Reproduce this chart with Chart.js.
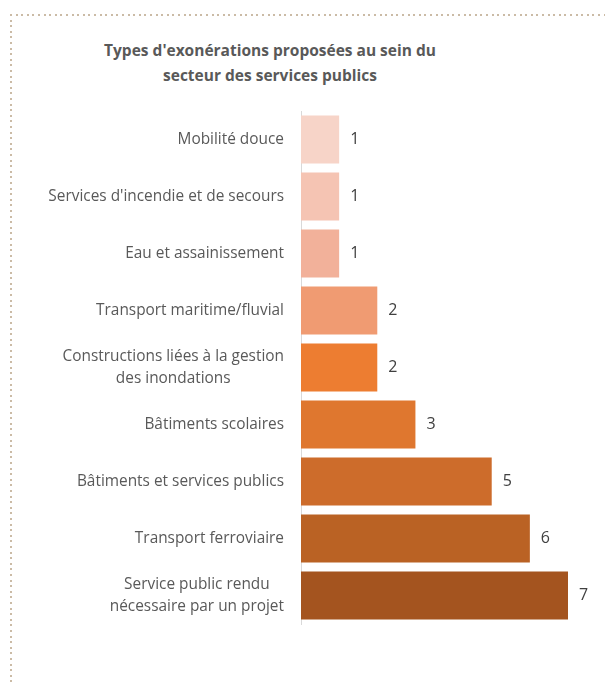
<!DOCTYPE html>
<html lang="fr">
<head>
<meta charset="utf-8">
<title>Types d'exonérations – services publics</title>
<script src="https://cdn.jsdelivr.net/npm/chart.js@4/dist/chart.umd.min.js"></script>
<style>
  html, body { margin: 0; padding: 0; background: #fff; }
  body { width: 605px; height: 686px; position: relative; overflow: hidden; font-family: "Open Sans", sans-serif; }
  /* dotted frame: top and left edges only, the rest runs off the page */
  .frame-top { position: absolute; left: 10px; top: 14px; width: 600px; height: 2px;
    background: repeating-linear-gradient(to right, #cbbba6 0 2px, transparent 2px 5.6px); }
  .frame-left { position: absolute; left: 10px; top: 14px; width: 2px; height: 680px;
    background: repeating-linear-gradient(to bottom, #cbbba6 0 2px, transparent 2px 5.6px); }
  #title { position: absolute; left: 0; width: 540px; top: 38px; text-align: center;
    font-weight: bold; font-size: 15.5px; line-height: 25px; color: #595959; }
  #chart { position: absolute; left: 0; top: 0; }
</style>
</head>
<body>
<div class="frame-top"></div>
<div class="frame-left"></div>
<div id="title">Types d'exonérations proposées au sein du<br>secteur des services publics</div>
<canvas id="chart" width="605" height="686"></canvas>
<script>
const categories = [
  'Mobilité douce',
  "Services d'incendie et de secours",
  'Eau et assainissement',
  'Transport maritime/fluvial',
  ['Constructions liées à la gestion', 'des inondations'],
  'Bâtiments scolaires',
  'Bâtiments et services publics',
  'Transport ferroviaire',
  ['Service public rendu', 'nécessaire par un projet']
];
const counts = [1, 1, 1, 2, 2, 3, 5, 6, 7];
const barColors = [
  '#f7d4c8', '#f5c4b3', '#f2b19a', '#f09b72', '#ed7d31',
  '#df772f', '#cd6c2b', '#ba6224', '#a4541f'
];

const labelFont = '15.4px "Open Sans", sans-serif';

// category names: block right-aligned against the axis, lines centred inside the block
const categoryLabels = {
  id: 'categoryLabels',
  afterDraw(chart) {
    const ctx = chart.ctx;
    const yScale = chart.scales.y;
    const right = chart.chartArea.left - 17;
    const lineHeight = 22;
    ctx.save();
    ctx.font = labelFont;
    ctx.fillStyle = '#595959';
    ctx.textAlign = 'center';
    ctx.textBaseline = 'middle';
    categories.forEach((cat, i) => {
      const lines = Array.isArray(cat) ? cat : [cat];
      const w = Math.max(...lines.map(l => ctx.measureText(l).width));
      const cx = right - w / 2;
      const cy = yScale.getPixelForValue(i);
      lines.forEach((line, j) => {
        ctx.fillText(line, cx, cy + (j - (lines.length - 1) / 2) * lineHeight);
      });
    });
    ctx.restore();
  }
};

// value printed just past the end of each bar
const valueLabels = {
  id: 'valueLabels',
  afterDatasetsDraw(chart) {
    const ctx = chart.ctx;
    const meta = chart.getDatasetMeta(0);
    ctx.save();
    ctx.font = '16px "Open Sans", sans-serif';
    ctx.fillStyle = '#404040';
    ctx.textAlign = 'left';
    ctx.textBaseline = 'middle';
    meta.data.forEach((bar, i) => {
      ctx.fillText(String(counts[i]), bar.x + 11, bar.y);
    });
    ctx.restore();
  }
};

new Chart(document.getElementById('chart'), {
  type: 'bar',
  data: {
    labels: categories,
    datasets: [{
      data: counts,
      backgroundColor: barColors,
      borderWidth: 0,
      categoryPercentage: 1,
      barPercentage: 0.84
    }]
  },
  options: {
    indexAxis: 'y',
    responsive: false,
    animation: false,
    layout: { padding: { left: 0, right: 37, top: 111, bottom: 62 } },
    plugins: {
      legend: { display: false },
      title: { display: false },
      tooltip: { enabled: false }
    },
    scales: {
      x: {
        display: false,
        min: 0,
        max: 7
      },
      y: {
        grid: { display: false, drawTicks: false },
        border: { display: true, color: '#d9d9d9', width: 1 },
        ticks: { display: false },
        afterFit(scale) { scale.width = 301; }
      }
    }
  },
  plugins: [categoryLabels, valueLabels]
});
</script>
</body>
</html>
